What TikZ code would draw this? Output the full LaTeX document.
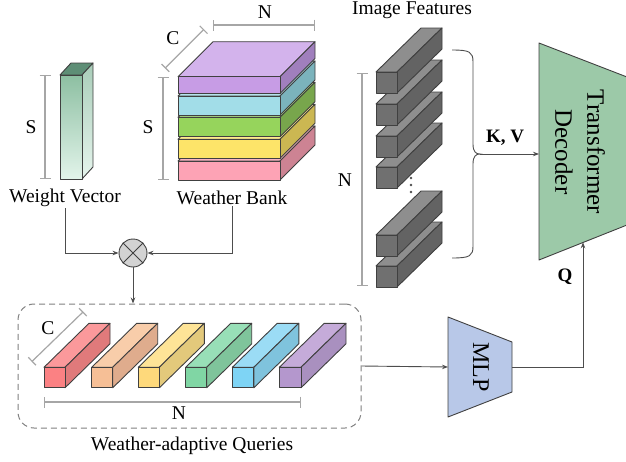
\documentclass[tikz,border=0pt]{standalone}
\usepackage{fontspec}
\setmainfont{Liberation Serif}
\usetikzlibrary{arrows.meta}
\definecolor{edgec}{HTML}{404040}
\definecolor{linec}{HTML}{4D4D4D}
\definecolor{dimc}{HTML}{A6A6A6}
\definecolor{wvtop}{HTML}{5E8E76}
\definecolor{mulfill}{HTML}{D3D3D3}
\definecolor{qdash}{HTML}{808080}
\definecolor{decfill}{HTML}{9CC9A8}
\definecolor{mlpfill}{HTML}{B8C8E8}
\newcommand\mycube[9]{%
  \definecolor{cubefront}{HTML}{#7}%
  \definecolor{cubetop}{HTML}{#8}%
  \definecolor{cuberight}{HTML}{#9}%
  \filldraw[edge, fill=cubetop] (#1,#2) -- ++(#5,-#6) -- ++(#3,0) -- ++(-#5,#6) -- cycle;
  \filldraw[edge, fill=cuberight] (#1+#3,#2) -- ++(#5,-#6) -- ++(0,#4) -- ++(-#5,#6) -- cycle;
  \filldraw[edge, fill=cubefront] (#1,#2) rectangle ++(#3,#4);
}
\tikzset{
  edge/.style={draw=edgec, line width=0.9pt, line join=round},
  conn/.style={draw=linec, line width=0.9pt, -{Stealth[length=6pt,width=4.5pt]}},
  plainline/.style={draw=linec, line width=0.9pt},
  dimline/.style={draw=dimc, line width=1.2pt, {Bar[width=11pt]}-{Bar[width=11pt]}},
  lbl/.style={font=\fontsize{19.5}{22}\selectfont, inner sep=1pt},
  boldlbl/.style={font=\fontsize{19}{22}\selectfont\bfseries, inner sep=1pt},
}
\begin{document}
\begin{tikzpicture}[x=1pt,y=-1pt]
\useasboundingbox (0,0) rectangle (626,461);

% ---------- Weight vector ----------
\filldraw[edge, fill=wvtop] (60,75) -- ++(11,-12) -- ++(22,0) -- ++(-11,12) -- cycle;
\shade[top color={rgb,255:red,169;green,205;blue,185}, bottom color={rgb,255:red,230;green,245;blue,237}]
  (82,75) -- (93,63) -- (93,167) -- (82,179) -- cycle;
\draw[edge] (82,75) -- (93,63) -- (93,167) -- (82,179) -- cycle;
\shade[top color={rgb,255:red,141;green,191;blue,162}, bottom color={rgb,255:red,226;green,244;blue,234}]
  (60,75) rectangle (82,179);
\draw[edge] (60,75) rectangle (82,179);
\draw[dimline] (45,75) -- (45,179);
\node[lbl] (sw) at (31,127) {S};
\node[lbl] (wv) at (65,198) {Weight Vector};

% ---------- Weather bank ----------
\mycube{178}{161}{102}{19}{35}{35}{FDA3B5}{FBB5C3}{CD8393}
\mycube{178}{139.3}{102}{19}{35}{35}{FDE469}{FDEB8C}{CBB752}
\mycube{178}{117.3}{102}{19.4}{35}{35}{96D45C}{AEDB86}{78A64C}
\mycube{178}{96}{102}{19}{35}{35}{A2DDE8}{B5E3EC}{7BB3BC}
\mycube{178}{76.7}{102}{16.7}{35}{35}{C79CE5}{D3B3EC}{A07FBD}
\draw[dimline] (163,77) -- (163,180);
\node[lbl] (sb) at (148,127) {S};
\draw[dimline] (165,68.3) -- (204,29.3);
\node[lbl] (cb) at (173,38) {C};
\draw[dimline] (213,25) -- (315,25);
\node[lbl] (nb) at (265,12) {N};
\node[lbl] (wb) at (232,198) {Weather Bank};

% ---------- multiply ----------
\node[circle, draw=edgec, line width=0.9pt, fill=mulfill, minimum size=28pt, inner sep=0pt] (mul) at (133,253) {};
\draw[edge] (mul.north west) -- (mul.south east) (mul.north east) -- (mul.south west);
\draw[conn] (wv.south) |- (mul.west);
\draw[conn] (wb.south) |- (mul.east);

% ---------- Queries ----------
\node[draw=qdash, dash pattern=on 6pt off 4pt, line width=1pt, rounded corners=16pt,
      minimum width=343pt, minimum height=124pt] (qbox) at (189.5,366) {};
\draw[conn] (mul.south) -- (mul.south |- qbox.north);
\mycube{44}{367.3}{21}{20.5}{45}{44}{FB8183}{FB999B}{E07A7B}
\mycube{91.7}{367.3}{21}{20.5}{45}{44}{F6BF96}{F8CDAA}{DFAC8D}
\mycube{138.3}{367.3}{21}{20.5}{45}{44}{FED97B}{FEE497}{E3C97B}
\mycube{185.7}{367.3}{21}{20.5}{45}{44}{80D6A4}{98DFB7}{7FC49B}
\mycube{232.3}{367.3}{21.5}{20.5}{45}{44}{7ED4F5}{9BDCF5}{7FC3DD}
\mycube{279.3}{367.3}{21.7}{20.5}{45}{44}{B497CD}{C5ABD9}{A990BF}
\draw[dimline] (31.7,361.7) -- (83.3,311.7);
\node[lbl] (cq) at (48,328) {C};
\draw[dimline] (44,402) -- (301,402);
\node[lbl] (nq) at (179,413) {N};
\node[lbl] (wq) at (192,446) {Weather-adaptive Queries};

% ---------- Image features ----------
\foreach \yy in {266,235,167,136,104,72}{
  \mycube{376}{\yy}{21}{21}{45}{44}{707070}{8E8E8E}{636363}
}
\foreach \dy in {178,185,192}{
  \fill[linec] (411,\dy) circle (1.3);
}
\draw[dimline] (362,73) -- (362,286);
\node[lbl] (ni) at (345,180) {N};
\node[lbl] (imf) at (412,10) {Image Features};

% brace
\coordinate (btop) at (452,50);
\coordinate (bbot) at (452,258);
\coordinate (btip) at (480,154);
\draw[plainline] (btop) .. controls (470,50) and (473,52) .. (473,62) -- (473,144)
  .. controls (473,152) and (476,154) .. (btip)
  .. controls (476,154) and (473,156) .. (473,164) -- (473,246)
  .. controls (473,256) and (470,258) .. (bbot);

% ---------- Transformer decoder ----------
\filldraw[edge, fill=decfill] (539,43) -- (627,77) -- (627,225) -- (539,260) -- cycle;
\coordinate (decw) at (539,154);
\coordinate (decb) at (583,242.3);
\node[rotate=-90, align=center, font=\fontsize{25}{32}\selectfont] (dec) at (580,152) {Transformer\\Decoder};
\draw[conn] (btip) -- (decw);
\node[boldlbl] (kv) at (505,138) {K, V};

% ---------- MLP ----------
\filldraw[edge, fill=mlpfill] (448,317) -- (512,342) -- (512,392) -- (448,417) -- cycle;
\coordinate (mlpw) at (448,367);
\coordinate (mlpe) at (512,367);
\node[rotate=-90, font=\fontsize{24}{28}\selectfont] (mlp) at (481,367) {MLP};
\draw[conn] (qbox.east) -- (mlpw);
\draw[conn] (mlpe) -| (decb);
\node[boldlbl] (q) at (565,277) {Q};
\end{tikzpicture}
\end{document}
